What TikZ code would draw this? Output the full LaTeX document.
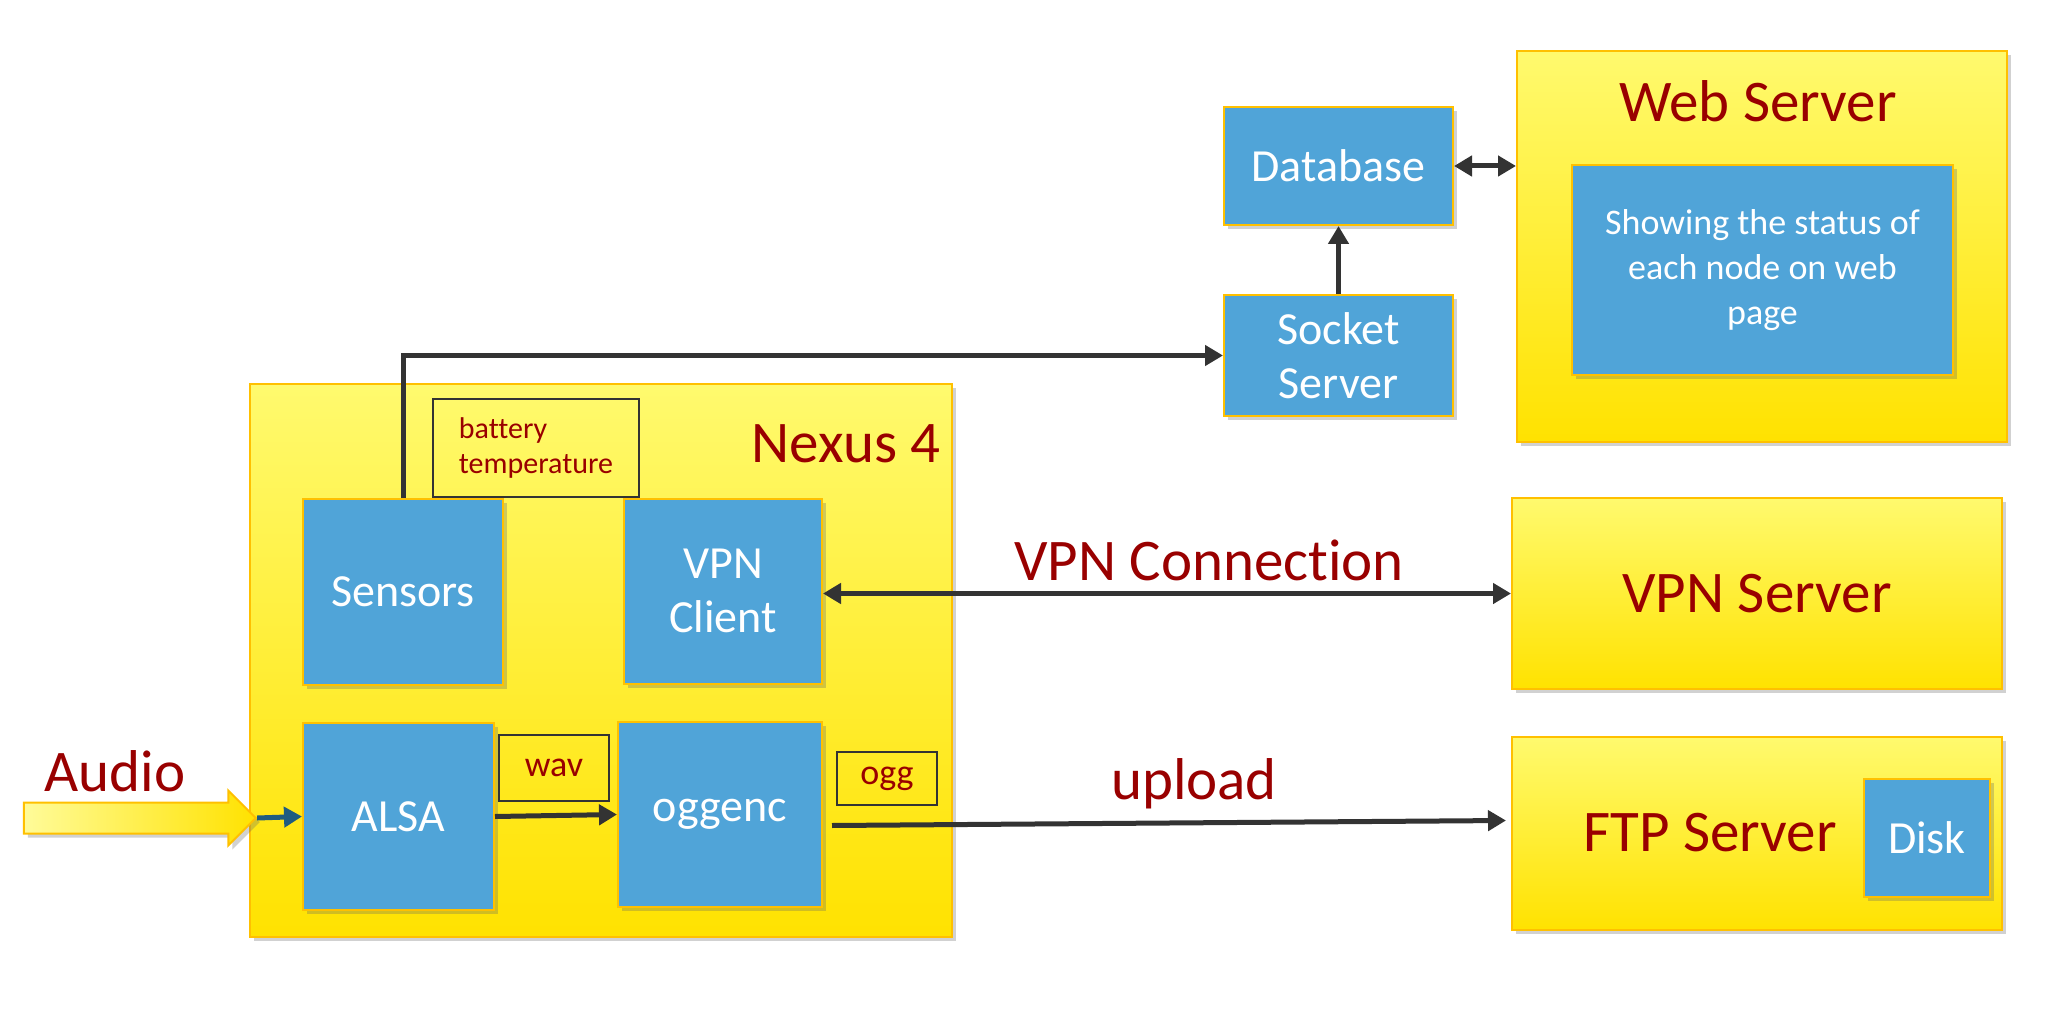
\documentclass[tikz,border=0pt]{standalone}
\usepackage{fontspec}
\setmainfont{Carlito}[Ligatures={NoCommon}]
\usepackage{tikz}
\usetikzlibrary{shapes,shapes.arrows,positioning,calc,arrows.meta,shadows}

\definecolor{goldline}{RGB}{255,192,0}
\definecolor{boxblue}{RGB}{80,164,216}
\definecolor{darkred}{RGB}{153,0,0}
\definecolor{yeltop}{RGB}{255,250,110}
\definecolor{yelbot}{RGB}{255,226,0}
\definecolor{arrowgray}{RGB}{51,51,51}
\definecolor{audioteal}{RGB}{31,92,128}

\tikzset{
  softshadow/.style={drop shadow={shadow xshift=2pt,shadow yshift=-2pt,opacity=0.3,fill=black!60}},
  panel/.style={draw=goldline,line width=1pt,top color=yeltop,bottom color=yelbot,inner sep=0pt,softshadow},
  bluebox/.style={draw=goldline,line width=1pt,fill=boxblue,text=white,align=center,inner sep=0pt,
    font=\fontsize{23}{27}\selectfont,softshadow},
  tagbox/.style={draw=arrowgray,line width=1pt,text=darkred,inner sep=0pt},
  biglabel/.style={text=darkred,inner sep=0pt,font=\fontsize{29.5}{34}\selectfont},
  arr/.style={draw=arrowgray,line width=2.5pt,-{Triangle[length=9pt,width=10pt]}},
  darr/.style={draw=arrowgray,line width=2.5pt,{Triangle[length=9pt,width=10pt]}-{Triangle[length=9pt,width=10pt]}}
}

\begin{document}
\begin{tikzpicture}[x=0.5pt,y=0.5pt,yscale=-1,xscale=1]
\useasboundingbox (0,0) rectangle (2050,1010);

%Shape: Rectangle [id:nexus]
\node [panel,minimum width=351pt,minimum height=276.5pt] (nexus) at (601,660.5) {};
% Text Node
\node [biglabel,anchor=east] (nexuslabel) at (941,444) {Nexus 4};

%Shape: Rectangle [id:battery]
\node [tagbox,minimum width=103pt,minimum height=49pt,align=left,font=\fontsize{15}{17.6}\selectfont] (battery) at (536,448) {battery\\temperature};
%Shape: Rectangle [id:sensors]
\node [bluebox,minimum width=100pt,minimum height=93pt] (sensors) at (403,592) {Sensors};
%Shape: Rectangle [id:vpnclient]
\node [bluebox,minimum width=99pt,minimum height=92.5pt] (vpnclient) at (723,591) {VPN\\Client};
%Shape: Rectangle [id:alsa]
\node [bluebox,minimum width=95.5pt,minimum height=93.5pt] (alsa) at (398.5,816.5) {ALSA};
%Shape: Rectangle [id:wav]
\node [tagbox,minimum width=55pt,minimum height=33pt,font=\fontsize{18}{21}\selectfont] (wav) at (554,768) {wav};
%Shape: Rectangle [id:oggenc]
\node [bluebox,minimum width=102pt,minimum height=92.5pt] (oggenc) at (720,814.5) {oggenc};
%Shape: Rectangle [id:ogg]
\node [tagbox,minimum width=50pt,minimum height=26.5pt,font=\fontsize{18}{21}\selectfont] (ogg) at (887,778.5) {ogg};

%Shape: Rectangle [id:socket]
\node [bluebox,minimum width=114.5pt,minimum height=60.5pt] (socket) at (1338.5,355.5) {Socket\\Server};
%Shape: Rectangle [id:database]
\node [bluebox,minimum width=114.5pt,minimum height=59pt] (database) at (1338.5,166) {Database};

%Shape: Rectangle [id:web]
\node [panel,minimum width=245pt,minimum height=195.5pt] (web) at (1762,246.5) {};
% Text Node
\node [biglabel] (weblabel) at (1758,101) {Web Server};
%Shape: Rectangle [id:webpage]
\node [bluebox,minimum width=190.5pt,minimum height=105pt,font=\fontsize{18}{22.5}\selectfont] (webpage) at (1762.5,270) {Showing the status of\\each node on web\\page};

%Shape: Rectangle [id:vpnserver]
\node [panel,biglabel,minimum width=245pt,minimum height=95.5pt] (vpnserver) at (1757,593.5) {VPN Server};

%Shape: Rectangle [id:ftp]
\node [panel,minimum width=245pt,minimum height=96.5pt] (ftp) at (1757,833.5) {};
% Text Node
\node [biglabel] (ftplabel) at (1710,833) {FTP Server};
%Shape: Rectangle [id:disk]
\node [bluebox,minimum width=63pt,minimum height=59pt] (disk) at (1927,838) {Disk};

%Shape: Right Arrow [id:audio]
\node [single arrow,draw=goldline,line width=1pt,left color=yeltop!70!white,right color=yelbot,
  inner xsep=0pt,inner ysep=7.25pt,minimum width=26.5pt,minimum height=116pt,
  single arrow head extend=6pt,single arrow head indent=0pt,softshadow] (audio) at (132,818) {};
% Text Node
\node [biglabel] (audiolabel) at (115,771) {Audio};

%Straight Lines
\draw [draw=audioteal,line width=2.5pt,-{Triangle[length=9pt,width=10pt]}] (audio.tip) -- (alsa.west);
\draw [arr] (alsa.east) -- (oggenc.west);
\draw [arr] ($(oggenc.east)+(9,11)$) -- ($(ftp.west)+(-5,-13)$);
\draw [darr] (vpnclient.east |- vpnserver.west) -- (vpnserver.west);
\draw [arr] (sensors.north) |- (socket.west);
\draw [arr] (socket.north) -- (database.south);
\draw [darr] (database.east) -- (web.west |- database.east);

% Text Node
\node [biglabel] (vpnlabel) at (1209,560) {VPN Connection};
% Text Node
\node [biglabel] (uploadlabel) at (1194,784) {upload};

\end{tikzpicture}
\end{document}
